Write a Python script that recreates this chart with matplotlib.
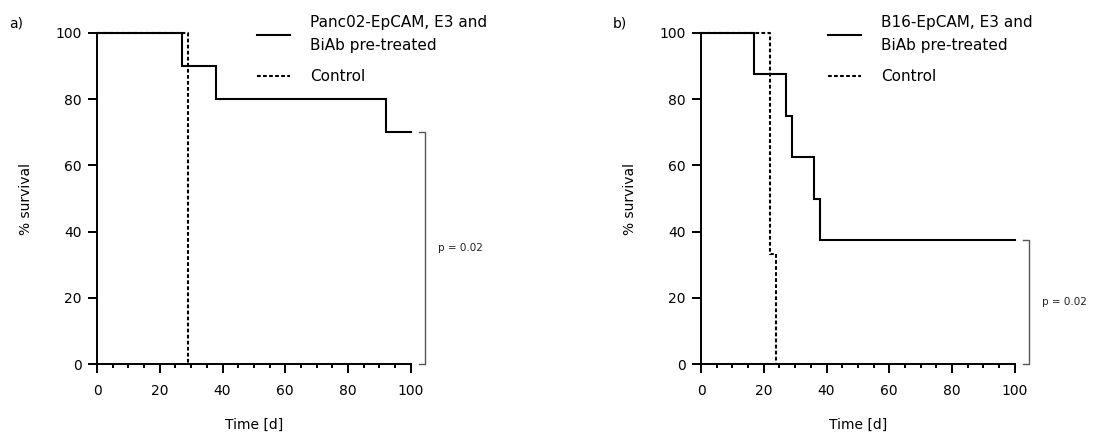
import matplotlib
matplotlib.use("Agg")
import matplotlib.pyplot as plt
import numpy as np

plt.rcParams['font.family'] = ['DejaVu Sans']

# Panel a data (Kaplan-Meier steps)
a_treat_t = [0, 27, 38, 92, 100]
a_treat_s = [100, 90, 80, 70, 70]
a_ctrl_t = [0, 29]
a_ctrl_s = [100, 0]
a_p = "p = 0.02"
a_label = "Panc02-EpCAM, E3 and\nBiAb pre-treated"

# Panel b data
b_treat_t = [0, 17, 27, 29, 36, 38, 100]
b_treat_s = [100, 87.5, 75, 62.5, 50, 37.5, 37.5]
b_ctrl_t = [0, 22, 24]
b_ctrl_s = [100, 33.3, 0]
b_p = "p = 0.02"
b_label = "B16-EpCAM, E3 and\nBiAb pre-treated"

ctrl_label = "Control"
x_ticks = [0, 20, 40, 60, 80, 100]
y_ticks = [0, 20, 40, 60, 80, 100]

fig = plt.figure(figsize=(11.05, 4.34), dpi=100)
ax_a = fig.add_axes([0.0878, 0.161, 0.284, 0.763])
ax_b = fig.add_axes([0.6344, 0.161, 0.284, 0.763])


def km_xy(t, s):
    xs, ys = [t[0]], [s[0]]
    for i in range(1, len(t)):
        xs += [t[i], t[i]]
        ys += [s[i - 1], s[i]]
    return xs, ys


def draw(ax, tt, ts, ct, cs, tlabel, pval, panel, legx):
    x, y = km_xy(tt, ts)
    ax.plot(x, y, color='black', lw=1.5, solid_joinstyle='miter',
            clip_on=False, label=tlabel)
    x, y = km_xy(ct, cs)
    ax.plot(x, y, color='black', lw=1.5, linestyle=(0, (1.8, 1.1)),
            clip_on=False, label=ctrl_label)
    ax.set_xlim(0, 100)
    ax.set_ylim(0, 100)
    for s in ['top', 'right']:
        ax.spines[s].set_visible(False)
    for s in ['left', 'bottom']:
        ax.spines[s].set_linewidth(1.4)
    ax.set_xticks(x_ticks)
    ax.set_xticks(np.arange(0, 101, 5), minor=True)
    ax.set_yticks(y_ticks)
    ax.tick_params(axis='both', which='major', direction='out', length=6.5,
                   width=1.4, labelsize=10, pad=4.5)
    ax.tick_params(axis='x', which='major', pad=8)
    ax.tick_params(axis='x', which='minor', direction='out', length=3,
                   width=1.4)
    ax.set_xlabel("Time [d]", fontsize=10, labelpad=14)
    ax.set_ylabel("% survival", fontsize=10, labelpad=16)
    # p-value bracket
    top = ts[-1]
    ax.plot([102.5, 104.5, 104.5, 102.5], [top, top, 0, 0], color='#555555',
            lw=1.0, clip_on=False)
    ax.text(108.5, top / 2, pval, fontsize=7.5, va='center', ha='left',
            color='#222222')
    ax.text(-0.28, 1.03, panel, transform=ax.transAxes, fontsize=10,
            va='center', ha='left')
    leg = ax.legend(loc='upper left', bbox_to_anchor=(legx - 0.005, 1.095),
                    frameon=False, fontsize=11, handlelength=2.2,
                    handletextpad=1.3, labelspacing=1.05)
    for t in leg.get_texts():
        t.set_linespacing(1.65)


draw(ax_a, a_treat_t, a_treat_s, a_ctrl_t, a_ctrl_s, a_label, a_p, "a)", 0.47)
draw(ax_b, b_treat_t, b_treat_s, b_ctrl_t, b_ctrl_s, b_label, b_p, "b)", 0.365)

fig.savefig("out.png", dpi=100)
